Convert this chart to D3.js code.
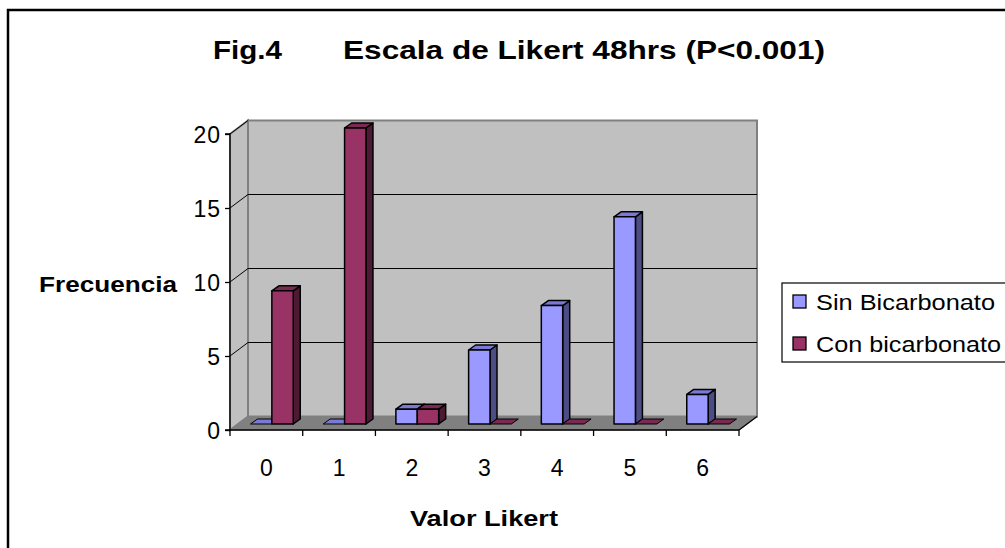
<!DOCTYPE html>
<html><head><meta charset="utf-8">
<script src="https://cdn.jsdelivr.net/npm/d3@7"></script>
<style>html,body{margin:0;padding:0;background:#fff;}svg{display:block;}</style>
</head><body>
<svg id="chart" width="1005" height="548"></svg>
<script>
const categories = ["0","1","2","3","4","5","6"];
const seriesNames = ["Sin Bicarbonato","Con bicarbonato"];
const sinBicarbonato = [0,0,1,5,8,14,2];
const conBicarbonato = [9,20,1,0,0,0,0];
const yTicks = [0,5,10,15,20];
const titleLeft = "Fig.4";
const titleRight = "Escala de Likert 48hrs (P<0.001)";
const yTitle = "Frecuencia";
const xTitle = "Valor Likert";

const colors = {
  front: ["#9999FF","#993366"],
  side:  ["#4D4D85","#4D1A33"],
  top:   ["#7A7AD6","#7A2952"]
};

const svg = d3.select("#chart");
svg.append("rect").attr("width",1005).attr("height",548).attr("fill","#fff");

// geometry
const x0 = 230, x1 = 739, yBase = 430;
const depthX = 18, depthY = -13.5;
const barPlaneX = 5.5, barPlaneY = -6;
const barDX = 7, barDY = -5;
const FONT = "Liberation Sans, Arial, sans-serif";

const y = d3.scaleLinear().domain([0,20]).range([yBase,134]);
const x = d3.scaleBand().domain(categories).range([x0,x1]).padding(0);
const xs = d3.scaleBand().domain(seriesNames).range([0,x.bandwidth()]).paddingOuter(0.7).paddingInner(0);

// outer border
svg.append("rect").attr("x",8).attr("y",10).attr("width",1010).attr("height",560)
  .attr("fill","none").attr("stroke","#000").attr("stroke-width",2.5);

// walls
const poly = pts => pts.map(p=>p.join(",")).join(" ");
const yTop = y(20);
svg.append("polygon").attr("points",poly([[x0+depthX,yTop+depthY],[x1+depthX,yTop+depthY],[x1+depthX,yBase+depthY],[x0+depthX,yBase+depthY]]))
  .attr("fill","#C0C0C0").attr("stroke","#808080").attr("stroke-width",2);
svg.append("polygon").attr("points",poly([[x0,yTop],[x0+depthX,yTop+depthY],[x0+depthX,yBase+depthY],[x0,yBase]]))
  .attr("fill","#C0C0C0").attr("stroke","#808080").attr("stroke-width",2);
svg.append("polygon").attr("points",poly([[x0,yBase],[x1,yBase],[x1+depthX,yBase+depthY],[x0+depthX,yBase+depthY]]))
  .attr("fill","#808080").attr("stroke","#808080").attr("stroke-width",1);

// gridlines
yTicks.filter(t=>t>0 && t<20).forEach(t=>{
  svg.append("line").attr("x1",x0+depthX).attr("x2",x1+depthX).attr("y1",y(t)+depthY).attr("y2",y(t)+depthY)
    .attr("stroke","#000").attr("stroke-width",1.2);
});
yTicks.filter(t=>t>0).forEach(t=>{
  svg.append("line").attr("x1",x0).attr("x2",x0+depthX).attr("y1",y(t)).attr("y2",y(t)+depthY)
    .attr("stroke","#000").attr("stroke-width",1);
});

// bars
const seriesVals = [sinBicarbonato, conBicarbonato];
categories.forEach((c,i)=>{
  seriesNames.forEach((s,k)=>{
    const v = seriesVals[k][i];
    const bx = x(c) + xs(s) + barPlaneX;
    const bw = xs.bandwidth();
    const by0 = yBase + barPlaneY;
    const by1 = y(v) + barPlaneY;
    const g = svg.append("g").attr("stroke","#000").attr("stroke-width",1.5).attr("stroke-linejoin","round");
    if (v>0) {
      g.append("polygon").attr("points",poly([[bx+bw,by1],[bx+bw+barDX,by1+barDY],[bx+bw+barDX,by0+barDY],[bx+bw,by0]]))
        .attr("fill",colors.side[k]);
    }
    g.append("polygon").attr("points",poly([[bx,by1],[bx+barDX,by1+barDY],[bx+bw+barDX,by1+barDY],[bx+bw,by1]]))
      .attr("fill",colors.top[k]).attr("stroke-width", v>0?1.5:1);
    if (v>0) {
      g.append("rect").attr("x",bx).attr("y",by1).attr("width",bw).attr("height",by0-by1)
        .attr("fill",colors.front[k]);
    }
  });
});

// y axis
const yAxis = d3.axisLeft(y).tickValues(yTicks).tickSize(5).tickPadding(4);
const gy = svg.append("g").attr("transform",`translate(${x0},0)`).call(yAxis);
gy.select(".domain").attr("stroke","#000").attr("stroke-width",1.3).attr("d",`M-5,${yTop}H0V${yBase}H-5`);
gy.selectAll(".tick line").attr("stroke","#000").attr("stroke-width",1.3);
gy.selectAll(".tick text").attr("font-family",FONT).attr("font-size",23)
  .attr("fill","#000").attr("dy","0.36em").attr("letter-spacing","1px");

// x axis
const gx = svg.append("g").attr("transform",`translate(0,${yBase})`);
gx.append("line").attr("x1",x0).attr("x2",x1).attr("y1",0).attr("y2",0).attr("stroke","#000").attr("stroke-width",1.3);
const bounds = categories.map(c=>x(c)).concat([x1]);
gx.selectAll("line.tk").data(bounds).join("line").attr("class","tk")
  .attr("x1",d=>d).attr("x2",d=>d).attr("y1",0).attr("y2",6).attr("stroke","#000").attr("stroke-width",1.3);
gx.selectAll("text").data(categories).join("text")
  .attr("x",d=>x(d)+x.bandwidth()/2).attr("y",46).attr("text-anchor","middle")
  .attr("font-family",FONT).attr("font-size",23).attr("fill","#000").text(d=>d);
svg.append("line").attr("x1",x1).attr("y1",yBase).attr("x2",x1+depthX).attr("y2",yBase+depthY)
  .attr("stroke","#000").attr("stroke-width",1.3);

// titles
const bold = sel => sel.attr("font-family",FONT).attr("font-weight","bold").attr("fill","#000");
svg.append("text").attr("x",213).attr("y",59).attr("font-size",26).attr("textLength",69).attr("lengthAdjust","spacingAndGlyphs").call(bold).text(titleLeft);
svg.append("text").attr("x",343).attr("y",59).attr("font-size",26).attr("textLength",482).attr("lengthAdjust","spacingAndGlyphs").call(bold).text(titleRight);
svg.append("text").attr("x",39).attr("y",292).attr("font-size",22).attr("textLength",138).attr("lengthAdjust","spacingAndGlyphs").call(bold).text(yTitle);
svg.append("text").attr("x",410).attr("y",526).attr("font-size",22).attr("textLength",148).attr("lengthAdjust","spacingAndGlyphs").call(bold).text(xTitle);

// legend
const lg = svg.append("g");
lg.append("rect").attr("x",782).attr("y",283).attr("width",240).attr("height",79)
  .attr("fill","#fff").attr("stroke","#000").attr("stroke-width",1.2);
const legW = [179,185];
seriesNames.forEach((s,k)=>{
  const yy = 295 + k*42;
  lg.append("rect").attr("x",793).attr("y",yy).attr("width",13).attr("height",13)
    .attr("fill",colors.front[k]).attr("stroke","#000").attr("stroke-width",1.3);
  lg.append("text").attr("x",816).attr("y",yy+15).attr("font-family",FONT)
    .attr("font-size",22).attr("fill","#000").attr("textLength",legW[k]).attr("lengthAdjust","spacingAndGlyphs").text(s);
});
</script>
</body></html>
